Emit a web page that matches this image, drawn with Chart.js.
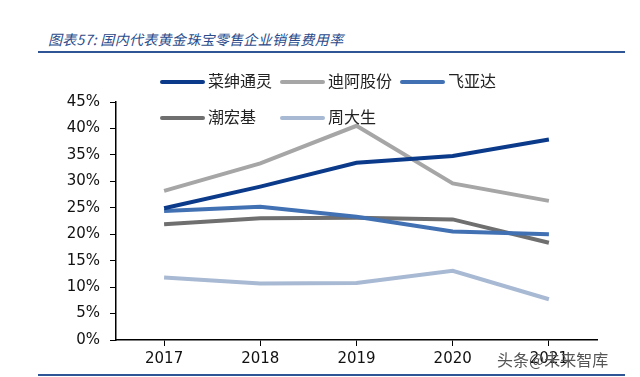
<!DOCTYPE html>
<html>
<head>
<meta charset="utf-8">
<script src="https://cdn.jsdelivr.net/npm/chart.js@4/dist/chart.umd.min.js"></script>
<style>
    html, body { margin: 0; padding: 0; background: #fff; }
    #wrap { position: relative; width: 640px; height: 377px; overflow: hidden; }
    #title {
        position: absolute; left: 48px; top: 29px;
        font: italic 14px "Noto Sans CJK SC", sans-serif;
        color: #2b4c8c; white-space: nowrap; letter-spacing: 0.3px;
    }
    .rule { position: absolute; left: 38px; width: 587px; height: 2px; background: #2f5597; }
    #mark {
        position: absolute; left: 497px; top: 347px;
        font: 16px "Noto Sans CJK SC", sans-serif; color: #555; white-space: nowrap;
    }
    canvas { position: absolute; left: 0; top: 0; }
</style>
</head>
<body>
<div id="wrap">
    <div id="title">图表57: 国内代表黄金珠宝零售企业销售费用率</div>
    <div class="rule" style="top:51px"></div>
    <canvas id="chart" width="640" height="377"></canvas>
    <div class="rule" style="top:374px"></div>
    <div id="mark">头条@未来智库</div>
</div>
<script>
(function() {
    'use strict';

    const years = ['2017', '2018', '2019', '2020', '2021'];
    const seriesNames = ['菜绅通灵', '迪阿股份', '飞亚达', '潮宏基', '周大生'];
    const seriesColors = ['#0b3a8a', '#a6a6a6', '#4170b3', '#6f6f6f', '#a8b9d3'];

    // 销售费用率 (%)
    const caishen = [24.9, 29.0, 33.5, 34.8, 37.9];
    const diya = [28.2, 33.4, 40.5, 29.6, 26.3];
    const feiyada = [24.4, 25.2, 23.3, 20.5, 20.0];
    const chaohongji = [21.9, 23.0, 23.1, 22.8, 18.4];
    const zhoudasheng = [11.8, 10.7, 10.8, 13.1, 7.7];

    const yTicks = [0, 5, 10, 15, 20, 25, 30, 35, 40, 45];

    const seriesValues = [caishen, diya, feiyada, chaohongji, zhoudasheng];

    // legend drawn inside the plot, two rows
    const legendCols = [160, 280, 400];
    const legendRows = [82, 118];

    const innerLegend = {
        id: 'innerLegend',
        afterDatasetsDraw(chart) {
            const c = chart.ctx;
            c.save();
            c.font = '16px "Noto Sans CJK SC", sans-serif';
            c.textBaseline = 'middle';
            chart.data.datasets.forEach((ds, i) => {
                const x = legendCols[i % 3];
                const y = legendRows[Math.floor(i / 3)];
                c.strokeStyle = ds.borderColor;
                c.lineWidth = 4;
                c.lineCap = 'round';
                c.beginPath();
                c.moveTo(x + 2, y);
                c.lineTo(x + 43, y);
                c.stroke();
                c.fillStyle = '#222';
                c.fillText(ds.label, x + 48, y - 1);
            });
            c.restore();
        }
    };

    new Chart(document.getElementById('chart'), {
        type: 'line',
        data: {
            labels: years,
            datasets: seriesNames.map((name, i) => ({
                label: name,
                data: seriesValues[i],
                borderColor: seriesColors[i],
                backgroundColor: seriesColors[i],
                borderWidth: 4,
                pointRadius: 0,
                tension: 0,
                fill: false
            }))
        },
        options: {
            responsive: false,
            animation: false,
            layout: { padding: { left: 66, right: 43, top: 102, bottom: 11 } },
            plugins: {
                legend: { display: false },
                tooltip: { enabled: false }
            },
            scales: {
                x: {
                    offset: true,
                    grid: { drawOnChartArea: false, drawTicks: true, tickLength: 6, color: '#000', offset: false },
                    border: { color: '#000', width: 1.5 },
                    ticks: { font: { family: 'DejaVu Sans', size: 15 }, color: '#111', padding: 4, maxRotation: 0 },
                    afterFit: s => { s.height = 26; }
                },
                y: {
                    min: 0,
                    max: 45,
                    afterBuildTicks: s => { s.ticks = yTicks.map(v => ({ value: v })); },
                    grid: { drawOnChartArea: false, drawTicks: true, tickLength: 6, color: '#000' },
                    border: { color: '#000', width: 1.5 },
                    ticks: {
                        font: { family: 'DejaVu Sans', size: 15 },
                        color: '#111',
                        padding: 10,
                        callback: v => v + '%'
                    },
                    afterFit: s => { s.width = 50; }
                }
            }
        },
        plugins: [innerLegend]
    });
})();
</script>
</body>
</html>
